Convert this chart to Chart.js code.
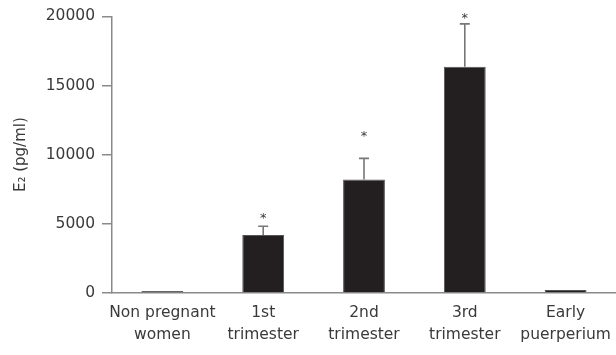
<!DOCTYPE html>
<html lang="en">
<head>
  <meta charset="UTF-8" />
  <title>E2 across pregnancy</title>
  <script src="https://cdn.jsdelivr.net/npm/chart.js"></script>
  <style>
    html, body { margin: 0; padding: 0; background: #fff; }
    #wrap { width: 616px; height: 355px; position: relative; }
  </style>
</head>
<body>
  <div id="wrap"><canvas id="e2Chart"></canvas></div>

  <script>
    const groups = [['Non pregnant', 'women'], ['1st', 'trimester'], ['2nd', 'trimester'], ['3rd', 'trimester'], ['Early', 'puerperium']];
    const meanE2 = [150, 4200, 8200, 16350, 220];
    const errE2 = [null, 620, 1530, 3100, null];
    // level (pg/ml) where the "*" marks sit
    const starLevel = [null, 5660, 11630, 20130, null];
    const yTicks = [0, 5000, 10000, 15000, 20000];

    const fontFamily = '"DejaVu Sans", sans-serif';
    const textColor = '#3a3a3a';
    const axisColor = '#8a8a8a';

    const errorBars = {
      id: 'errorBars',
      afterDatasetsDraw(chart) {
        const ctx = chart.ctx;
        const y = chart.scales.y;
        const bars = chart.getDatasetMeta(0).data;
        ctx.save();
        bars.forEach((bar, i) => {
          if (errE2[i] != null) {
            const top = y.getPixelForValue(meanE2[i] + errE2[i]);
            ctx.strokeStyle = '#777';
            ctx.lineWidth = 1.6;
            ctx.beginPath();
            ctx.moveTo(bar.x, bar.y);
            ctx.lineTo(bar.x, top);
            ctx.moveTo(bar.x - 5, top);
            ctx.lineTo(bar.x + 5, top);
            ctx.stroke();
          }
          if (starLevel[i] != null) {
            ctx.fillStyle = textColor;
            ctx.font = '13px ' + fontFamily;
            ctx.textAlign = 'center';
            ctx.textBaseline = 'alphabetic';
            ctx.fillText('*', bar.x, y.getPixelForValue(starLevel[i]) + 7.5);
          }
        });
        ctx.restore();
      }
    };

    new Chart(document.getElementById('e2Chart'), {
      type: 'bar',
      data: {
        labels: groups,
        datasets: [{
          data: meanE2,
          backgroundColor: '#231f20',
          borderColor: '#555',
          borderWidth: 1,
          barPercentage: 0.83,
          categoryPercentage: 0.5
        }]
      },
      options: {
        responsive: true,
        maintainAspectRatio: false,
        animation: false,
        layout: { padding: { top: 13, right: 0, bottom: 0, left: 0 } },
        plugins: { legend: { display: false }, tooltip: { enabled: false } },
        scales: {
          x: {
            grid: { drawOnChartArea: false, drawTicks: false },
            border: { display: true, color: axisColor, width: 1.5 },
            ticks: {
              color: textColor,
              padding: 9,
              maxRotation: 0,
              autoSkip: false,
              font: { family: fontFamily, size: 15.5, lineHeight: 1.4 }
            },
            afterFit(scale) {
              scale.height = 62;
              scale.paddingRight = 0;
              scale.paddingLeft = 0;
            }
          },
          y: {
            min: 0,
            max: 20000,
            afterBuildTicks(scale) { scale.ticks = yTicks.map(v => ({ value: v })); },
            grid: { drawOnChartArea: false, drawTicks: true, tickLength: 10, color: axisColor, lineWidth: 1.5 },
            border: { display: true, color: axisColor, width: 1.5 },
            ticks: {
              color: textColor,
              padding: 7,
              font: { family: fontFamily, size: 15.5 },
              callback: v => String(v)
            },
            title: {
              display: true,
              text: 'E₂ (pg/ml)',
              color: textColor,
              padding: { top: 12, bottom: 0 },
              font: { family: fontFamily, size: 15 }
            },
            afterFit(scale) { scale.width = 112; }
          }
        }
      },
      plugins: [errorBars]
    });
  </script>
</body>
</html>
